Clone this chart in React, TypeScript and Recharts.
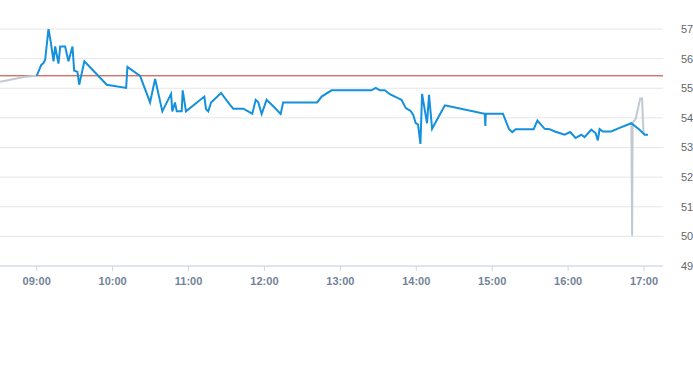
import React from "react";
import { LineChart, Line, XAxis, YAxis, CartesianGrid, ReferenceLine } from "recharts";

// times are minutes after midnight
const preTimes = [511, 531, 540];
const preValues = [55.22, 55.39, 55.42];

const mainTimes = [
  540, 543.6, 545.4, 546.7, 549.3, 551.2, 553.3, 554.6, 557.2, 558.6, 562.5, 565.1, 568.3, 569.6, 572.2, 573.6, 577.7,
  595.4, 610.7, 611.7, 621.7, 629.6, 633.6, 639.3, 646.2, 647.2, 649.3, 650.7, 654.6, 655.4, 658.0, 672.5, 673.8,
  675.6, 677.8, 685.7, 692.8, 695.4, 703.3, 710.4, 713.1, 715.1, 717.8, 721.7, 727.0, 732.8, 734.8, 761.7, 765.2,
  773.1, 804.6, 808.0, 811.2, 815.1, 819.1, 826.4, 828.3, 831.7, 835.4, 837.5, 839.6, 841.4, 843.3, 844.6, 846.7,
  848.5, 850.1, 852.5, 862.5, 863.3, 894.1, 894.6, 894.9, 908.5, 913.3, 915.9, 918.6, 932.8, 935.7, 941.5, 945.4,
  949.4, 953.3, 957.2, 961.7, 965.9, 970.4, 973.0, 978.3, 981.7, 983.5, 984.9, 987.5, 994.1, 1000.7, 1009.9,
  1016.5, 1020.5, 1023.1,
];
const mainValues = [
  55.42, 55.79, 55.85, 55.96, 57.0, 56.54, 55.91, 56.41, 55.83, 56.41, 56.41, 55.91, 56.41, 55.6, 55.55, 55.12, 55.91,
  55.12, 55.01, 55.72, 55.42, 54.52, 55.31, 54.22, 54.81, 54.22, 54.52, 54.22, 54.22, 54.93, 54.22, 54.72, 54.3,
  54.22, 54.52, 54.84, 54.44, 54.31, 54.31, 54.14, 54.61, 54.53, 54.13, 54.61, 54.39, 54.13, 54.52, 54.52, 54.72,
  54.93, 54.93, 55.01, 54.93, 54.93, 54.8, 54.65, 54.61, 54.33, 54.24, 54.11, 53.82, 53.77, 53.12, 54.81, 54.27,
  53.82, 54.78, 53.63, 54.42, 54.42, 54.14, 53.73, 54.14, 54.14, 53.62, 53.52, 53.62, 53.62, 53.91, 53.63, 53.62,
  53.54, 53.49, 53.43, 53.52, 53.32, 53.43, 53.35, 53.6, 53.49, 53.24, 53.62, 53.54, 53.54, 53.66, 53.82,
  53.6, 53.43, 53.43,
];

const postTimes = [1010, 1010.6, 1011, 1013.4, 1017, 1018.5, 1019.1, 1019.7];
const postValues = [53.82, 50.02, 53.83, 53.97, 54.65, 54.65, 53.94, 53.46];

const previousClose = 55.42;
const xTicks = [540, 600, 660, 720, 780, 840, 900, 960, 1020];
const yTicks = [49, 50, 51, 52, 53, 54, 55, 56, 57];

const toRows = (ts: number[], vs: number[]) => ts.map((t, i) => ({ t, v: vs[i] }));
const preData = toRows(preTimes, preValues);
const mainData = toRows(mainTimes, mainValues);
const postData = toRows(postTimes, postValues);

const fmt = (m: number) => {
  const h = Math.floor(m / 60);
  const mm = Math.round(m % 60);
  return `${String(h).padStart(2, "0")}:${String(mm).padStart(2, "0")}`;
};

export default function App() {
  return (
    <div style={{ position: "absolute", left: 0, top: 0, fontFamily: "'Liberation Sans', Arial, sans-serif" }}>
      <LineChart width={693} height={365} margin={{ top: 29, right: 0, left: 0, bottom: 69 }}>
        <CartesianGrid vertical={false} stroke="#e6e6e6" />
        <XAxis
          type="number"
          dataKey="t"
          domain={[511, 1035]}
          allowDataOverflow
          ticks={xTicks}
          tickFormatter={fmt}
          height={30}
          axisLine={{ stroke: "#ccd6eb" }}
          tickLine={{ stroke: "#ccd6eb" }}
          tickSize={5}
          tickMargin={6}
          tick={{ fill: "#73839a", fontSize: 11, fontWeight: 600 }}
        />
        <YAxis
          orientation="right"
          domain={[49, 57]}
          ticks={yTicks}
          allowDataOverflow
          axisLine={false}
          tickLine={false}
          width={30}
          tickMargin={12}
          tick={{ fill: "#666666", fontSize: 11, textAnchor: "start" }}
        />
        <ReferenceLine y={previousClose} stroke="#c0392b" strokeWidth={1} />
        <Line data={preData} dataKey="v" type="linear" stroke="#c1c9d2" strokeWidth={2} dot={false} isAnimationActive={false} />
        <Line data={postData} dataKey="v" type="linear" stroke="#c1c9d2" strokeWidth={2} dot={false} isAnimationActive={false} />
        <Line data={mainData} dataKey="v" type="linear" stroke="#1590dc" strokeWidth={2} dot={false} isAnimationActive={false} />
      </LineChart>
    </div>
  );
}
